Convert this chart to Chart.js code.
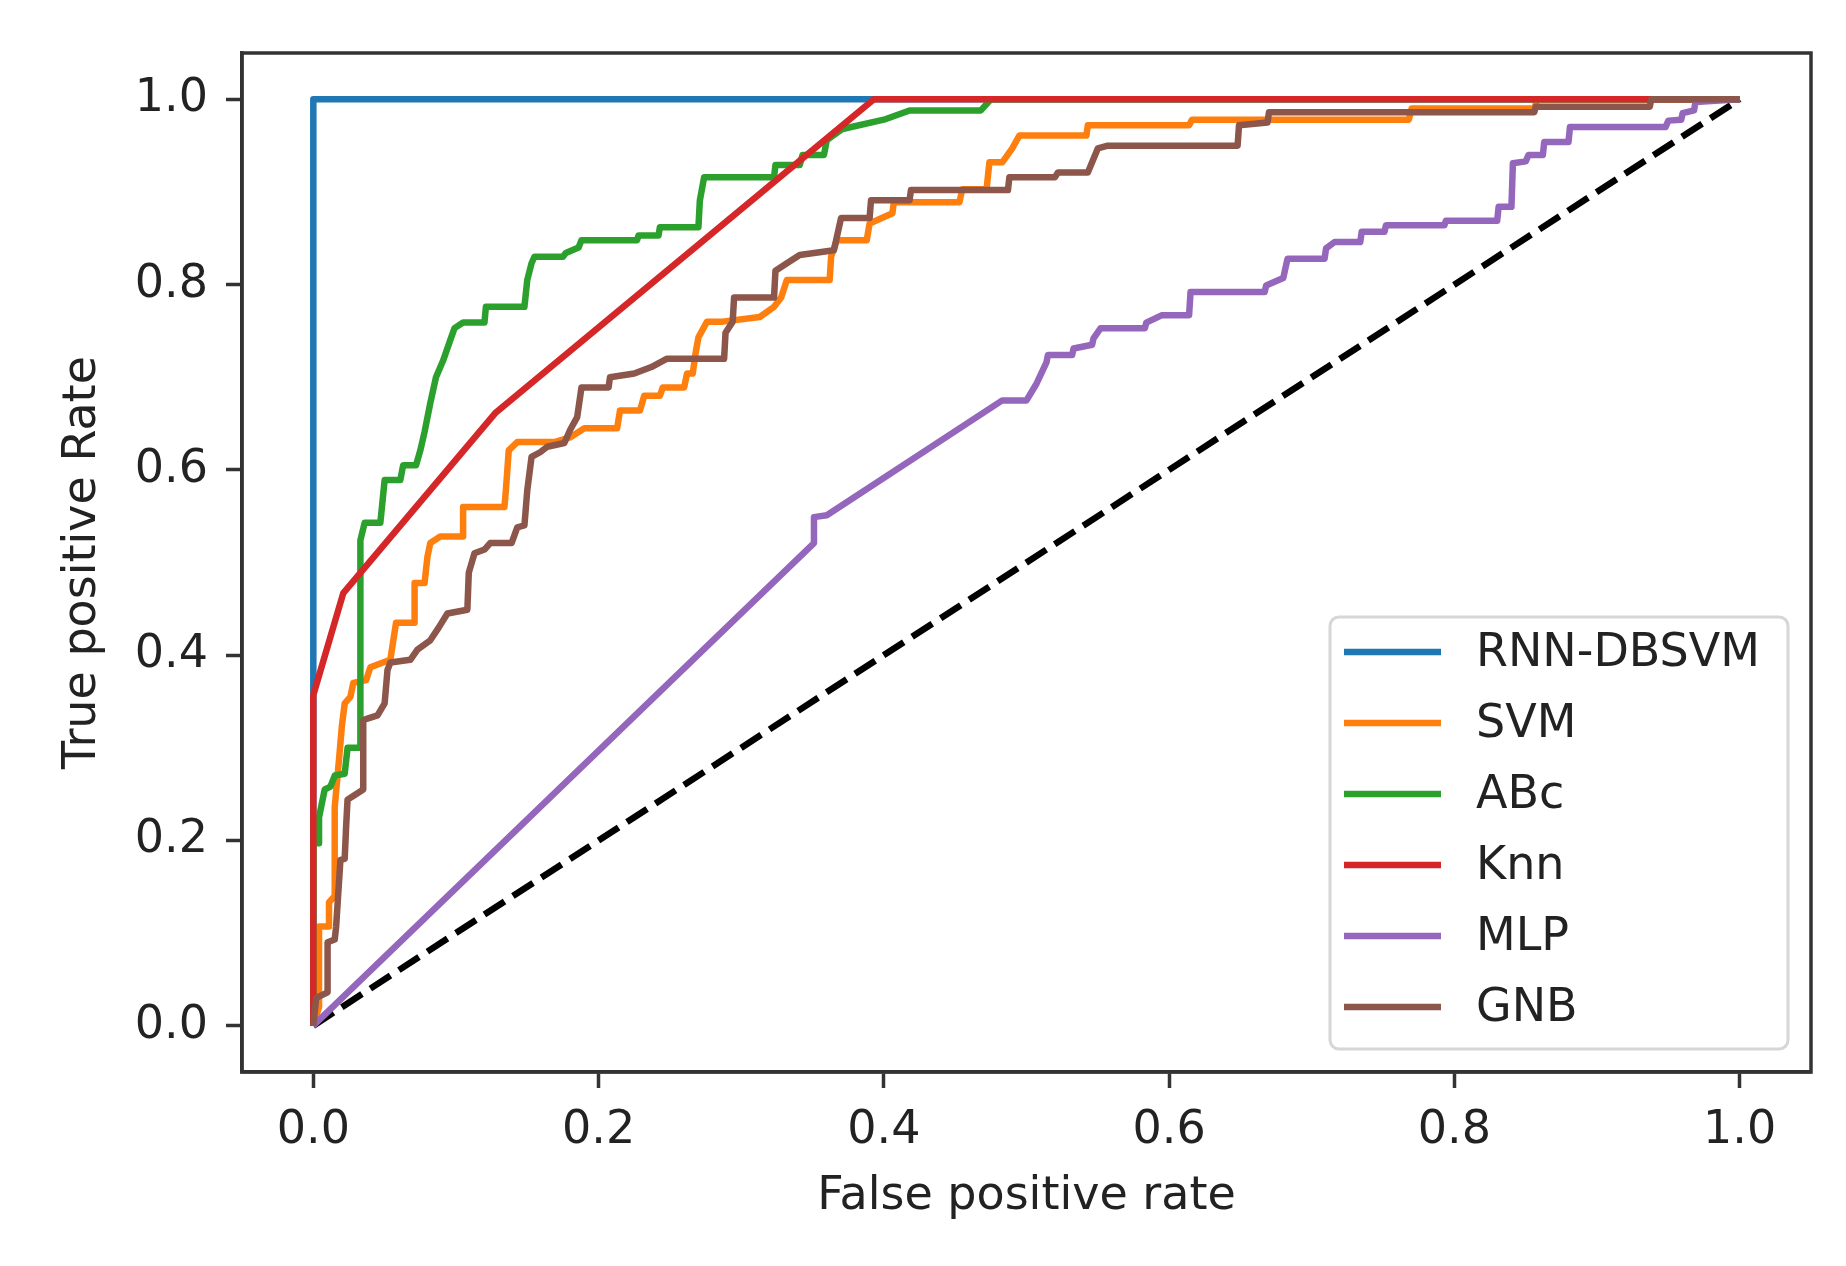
<!DOCTYPE html>
<html>
<head>
<meta charset="utf-8">
<script src="https://cdn.jsdelivr.net/npm/chart.js@4.4.1/dist/chart.umd.min.js"></script>
<style>
  html, body { margin: 0; padding: 0; background: #fff; }
  #wrap { width: 1846px; height: 1266px; position: relative; }
</style>
</head>
<body>
<div id="wrap"><canvas id="chart"></canvas></div>
<script>
// ROC curves, values
const seriesNames = ['RNN-DBSVM', 'SVM', 'ABc', 'Knn', 'MLP', 'GNB'];
const seriesColors = ['#1f77b4', '#ff7f0e', '#2ca02c', '#d62728', '#9467bd', '#8c564b'];
const xTicks = [0, 0.2, 0.4, 0.6, 0.8, 1.0];
const yTicks = [0, 0.2, 0.4, 0.6, 0.8, 1.0];

const chanceFpr = [0, 1];
const chanceTpr = [0, 1];

const rnnFpr = [0, 0, 1];
const rnnTpr = [0, 1, 1];

const svmFpr = [0, 0.004, 0.004, 0.011, 0.011, 0.015, 0.015, 0.018, 0.020, 0.022, 0.026, 0.028, 0.037, 0.040, 0.054, 0.058,
  0.071, 0.071, 0.078, 0.080, 0.082, 0.089, 0.105, 0.105, 0.134, 0.135, 0.137, 0.143, 0.169, 0.180, 0.190, 0.213, 0.215,
  0.229, 0.232, 0.243, 0.245, 0.260, 0.262, 0.266, 0.268, 0.270, 0.276, 0.287, 0.313, 0.323, 0.328, 0.332, 0.362, 0.363,
  0.367, 0.388, 0.390, 0.406, 0.407, 0.453, 0.455, 0.472, 0.474, 0.483, 0.490, 0.495, 0.542, 0.543, 0.614, 0.616, 0.768,
  0.770, 0.856, 0.858, 1];
const svmTpr = [0, 0.020, 0.107, 0.107, 0.133, 0.140, 0.236, 0.287, 0.323, 0.348, 0.355, 0.370, 0.373, 0.387, 0.395, 0.435,
  0.435, 0.478, 0.478, 0.506, 0.521, 0.528, 0.528, 0.560, 0.560, 0.578, 0.621, 0.630, 0.630, 0.635, 0.645, 0.645, 0.664,
  0.664, 0.680, 0.680, 0.689, 0.689, 0.704, 0.704, 0.726, 0.743, 0.760, 0.760, 0.765, 0.776, 0.786, 0.805, 0.805, 0.830,
  0.848, 0.848, 0.866, 0.877, 0.889, 0.889, 0.903, 0.903, 0.932, 0.932, 0.947, 0.961, 0.961, 0.972, 0.972, 0.978, 0.978,
  0.990, 0.990, 1, 1];

const abcFpr = [0, 0, 0.004, 0.004, 0.008, 0.012, 0.015, 0.022, 0.024, 0.033, 0.033, 0.036, 0.047, 0.050, 0.061, 0.063,
  0.072, 0.075, 0.078, 0.082, 0.086, 0.091, 0.096, 0.099, 0.105, 0.120, 0.121, 0.148, 0.150, 0.153, 0.155, 0.175, 0.177,
  0.186, 0.188, 0.227, 0.228, 0.242, 0.243, 0.270, 0.271, 0.274, 0.323, 0.324, 0.341, 0.343, 0.358, 0.360, 0.371, 0.400,
  0.418, 0.468, 0.475, 1];
const abcTpr = [0, 0.197, 0.197, 0.225, 0.255, 0.258, 0.270, 0.272, 0.300, 0.300, 0.524, 0.543, 0.543, 0.589, 0.589, 0.605,
  0.605, 0.621, 0.641, 0.672, 0.700, 0.718, 0.740, 0.753, 0.759, 0.759, 0.776, 0.776, 0.805, 0.823, 0.830, 0.830, 0.834,
  0.840, 0.848, 0.848, 0.853, 0.853, 0.862, 0.862, 0.891, 0.916, 0.916, 0.929, 0.929, 0.940, 0.940, 0.956, 0.968, 0.978,
  0.988, 0.988, 1, 1];

const knnFpr = [0, 0, 0.021, 0.128, 0.393, 1];
const knnTpr = [0, 0.357, 0.467, 0.662, 1, 1];

const mlpFpr = [0, 0.351, 0.351, 0.360, 0.483, 0.500, 0.507, 0.514, 0.515, 0.532, 0.533, 0.546, 0.547, 0.552, 0.583, 0.584,
  0.595, 0.614, 0.615, 0.667, 0.668, 0.680, 0.683, 0.709, 0.710, 0.716, 0.734, 0.735, 0.751, 0.752, 0.793, 0.794, 0.830,
  0.831, 0.840, 0.841, 0.850, 0.852, 0.862, 0.863, 0.880, 0.881, 0.948, 0.950, 0.959, 0.960, 0.968, 0.969, 1];
const mlpTpr = [0, 0.521, 0.549, 0.551, 0.675, 0.675, 0.693, 0.716, 0.724, 0.724, 0.731, 0.735, 0.742, 0.753, 0.753, 0.759,
  0.767, 0.767, 0.792, 0.792, 0.799, 0.807, 0.828, 0.828, 0.839, 0.846, 0.846, 0.857, 0.857, 0.864, 0.864, 0.869, 0.869,
  0.884, 0.884, 0.931, 0.933, 0.940, 0.940, 0.954, 0.954, 0.970, 0.970, 0.977, 0.978, 0.985, 0.988, 0.997, 1];

const gnbFpr = [0, 0.002, 0.010, 0.010, 0.015, 0.016, 0.019, 0.022, 0.023, 0.024, 0.028, 0.035, 0.035, 0.039, 0.045, 0.050,
  0.052, 0.054, 0.068, 0.073, 0.082, 0.088, 0.094, 0.108, 0.109, 0.113, 0.120, 0.124, 0.139, 0.143, 0.148, 0.150, 0.153,
  0.159, 0.164, 0.176, 0.180, 0.185, 0.188, 0.207, 0.208, 0.225, 0.237, 0.248, 0.288, 0.289, 0.294, 0.295, 0.323, 0.324,
  0.332, 0.341, 0.365, 0.370, 0.390, 0.391, 0.418, 0.419, 0.487, 0.488, 0.520, 0.522, 0.543, 0.550, 0.557, 0.648, 0.649,
  0.669, 0.670, 0.856, 0.857, 0.937, 0.938, 1];
const gnbTpr = [0, 0.030, 0.036, 0.090, 0.093, 0.107, 0.179, 0.180, 0.215, 0.244, 0.248, 0.255, 0.330, 0.332, 0.335, 0.348,
  0.384, 0.392, 0.395, 0.406, 0.416, 0.430, 0.445, 0.449, 0.489, 0.510, 0.514, 0.521, 0.521, 0.538, 0.540, 0.578, 0.614,
  0.619, 0.625, 0.629, 0.643, 0.657, 0.689, 0.689, 0.700, 0.704, 0.711, 0.720, 0.720, 0.748, 0.760, 0.786, 0.786, 0.815,
  0.823, 0.832, 0.837, 0.872, 0.872, 0.891, 0.891, 0.902, 0.902, 0.916, 0.916, 0.921, 0.921, 0.947, 0.950, 0.950, 0.972,
  0.975, 0.986, 0.986, 0.992, 0.992, 1, 1];

const seriesFpr = [rnnFpr, svmFpr, abcFpr, knnFpr, mlpFpr, gnbFpr];
const seriesTpr = [rnnTpr, svmTpr, abcTpr, knnTpr, mlpTpr, gnbTpr];

const FONT = '"DejaVu Sans", "Liberation Sans", sans-serif';
const TEXT = '#222';
const LINE_W = 6.5;

function toPoints(xs, ys) {
  return xs.map((x, i) => ({ x: x, y: ys[i] }));
}

const datasets = seriesNames.map((name, i) => ({
  label: name,
  data: toPoints(seriesFpr[i], seriesTpr[i]),
  borderColor: seriesColors[i],
  backgroundColor: seriesColors[i],
  borderWidth: LINE_W,
  borderJoinStyle: 'round',
  pointRadius: 0,
  showLine: true,
  fill: false,
  tension: 0,
  order: seriesNames.length - i
}));

datasets.push({
  label: 'chance',
  data: toPoints(chanceFpr, chanceTpr),
  borderColor: '#000',
  borderWidth: LINE_W,
  borderDash: [24, 10],
  pointRadius: 0,
  showLine: true,
  fill: false,
  order: 10
});

// axes box like matplotlib spines
const framePlugin = {
  id: 'frame',
  afterDatasetsDraw(chart) {
    const { ctx, chartArea: a } = chart;
    ctx.save();
    ctx.strokeStyle = '#333';
    ctx.lineWidth = 3.5;
    ctx.strokeRect(a.left, a.top, a.right - a.left, a.bottom - a.top);
    ctx.restore();
  }
};

// legend box in the lower right corner of the axes
const rocLegend = {
  id: 'rocLegend',
  afterDraw(chart) {
    const { ctx, chartArea: a } = chart;
    const w = 458, h = 432;
    const right = a.right - 23, bottom = a.bottom - 23;
    const left = right - w, top = bottom - h;
    ctx.save();
    ctx.beginPath();
    ctx.roundRect(left, top, w, h, 9);
    ctx.fillStyle = 'rgba(255,255,255,0.85)';
    ctx.fill();
    ctx.strokeStyle = '#d6d6d6';
    ctx.lineWidth = 3;
    ctx.stroke();

    ctx.font = '46px ' + FONT;
    ctx.textBaseline = 'middle';
    ctx.textAlign = 'left';
    seriesNames.forEach((name, i) => {
      const y = top + 35 + i * 71;
      ctx.beginPath();
      ctx.moveTo(left + 14, y);
      ctx.lineTo(left + 111, y);
      ctx.strokeStyle = seriesColors[i];
      ctx.lineWidth = LINE_W;
      ctx.stroke();
      ctx.fillStyle = TEXT;
      ctx.fillText(name, left + 146, y + 2);
    });
    ctx.restore();
  }
};

const tickOpts = {
  font: { family: FONT, size: 46 },
  color: TEXT,
  callback: (v) => Number(v).toFixed(1)
};

new Chart(document.getElementById('chart'), {
  type: 'scatter',
  data: { datasets: datasets },
  options: {
    responsive: true,
    maintainAspectRatio: false,
    animation: false,
    devicePixelRatio: 1,
    layout: { padding: { left: 0, right: 35, top: 53, bottom: 0 } },
    plugins: {
      legend: { display: false },
      tooltip: { enabled: false }
    },
    scales: {
      x: {
        type: 'linear',
        min: -0.05,
        max: 1.05,
        afterBuildTicks: (scale) => { scale.ticks = xTicks.map((v) => ({ value: v })); },
        afterFit: (scale) => { scale.height = 194; },
        ticks: Object.assign({ padding: 15, maxRotation: 0 }, tickOpts),
        grid: { drawOnChartArea: false, drawTicks: true, tickLength: 16, tickWidth: 3.5, tickColor: '#333' },
        border: { display: true, color: '#333', width: 3.5 },
        title: {
          display: true,
          text: 'False positive rate',
          font: { family: FONT, size: 46 },
          color: TEXT,
          padding: { top: 0, bottom: 41 }
        }
      },
      y: {
        type: 'linear',
        min: -0.05,
        max: 1.05,
        afterBuildTicks: (scale) => { scale.ticks = yTicks.map((v) => ({ value: v })); },
        afterFit: (scale) => { scale.width = 242; },
        ticks: Object.assign({ padding: 18 }, tickOpts),
        grid: { drawOnChartArea: false, drawTicks: true, tickLength: 16, tickWidth: 3.5, tickColor: '#333' },
        border: { display: true, color: '#333', width: 3.5 },
        title: {
          display: true,
          text: 'True positive Rate',
          font: { family: FONT, size: 46 },
          color: TEXT,
          padding: { top: 55, bottom: 0 }
        }
      }
    }
  },
  plugins: [framePlugin, rocLegend]
});
</script>
</body>
</html>
